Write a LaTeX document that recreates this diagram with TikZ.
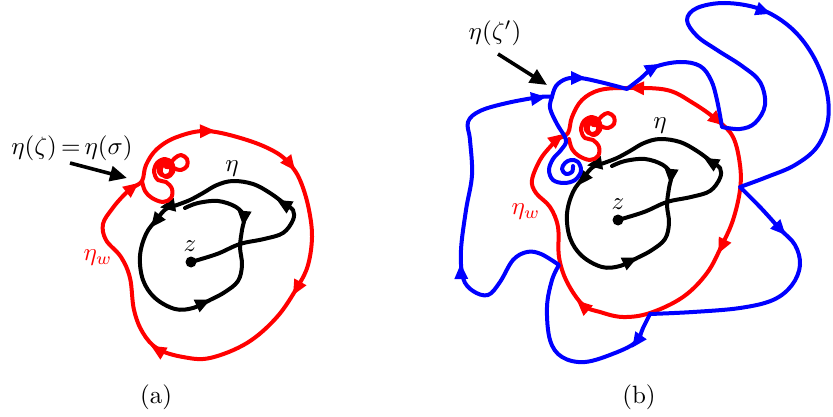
\documentclass[tikz,border=0pt]{standalone}
\usetikzlibrary{arrows.meta}
\begin{document}
\begin{tikzpicture}[x=1pt,y=-1pt,
  curve/.style={line width=4pt,line cap=round,line join=round},
  blk/.style={curve,black},
  redc/.style={curve,red},
  bluec/.style={curve,blue},
  lbl/.style={inner sep=0pt,scale=2.5},
  tri/.pic={\fill (8,0) -- (-7,7) -- (-7,-7) -- cycle;},
  pointer/.style={line width=3.6pt,-{Triangle[length=17pt,width=15pt]}},
  core/.pic={
    \draw[blk] plot[smooth,tension=0.6] coordinates {(191,262) (217,254) (240,244) (264,239) (283,233) (293,220) (293,210) (285,204) (270,193) (253,184) (233,181) (217,185) (203,193) (190,200) (177,205) (166,209) (157,219) (146,234) (140,256) (143,280) (155,298) (175,309) (193,308) (210,300) (225,292) (238,281) (242,265) (240,247) (242,230) (244,217) (236,207) (218,201) (198,203) (185,208)};
    \fill (191,262) circle[radius=5.5pt];
    \pic[rotate=150] at (284,204) {tri};
    \pic[rotate=190] at (168,206) {tri};
    \pic[rotate=232] at (156,221) {tri};
    \pic[rotate=25] at (203,303) {tri};
    \pic[rotate=265] at (244,218) {tri};
    \draw[redc] plot[smooth,tension=0.6] coordinates {(142,181) (145,191) (152,198) (163,202) (171,198) (172,189) (166,182) (158,180) (154,172) (157,163) (165,159) (172,163) (173,172) (167,177) (161,173) (162,166) (169,164) (175,158) (181,155) (187,159) (187,166) (181,170) (174,168) (170,162) (165,161) (160,165) (159,172) (164,176) (170,174) (171,168) (166,167)};
  }
]
\useasboundingbox (0,0) rectangle (833,417);
% ---------- panel (a)
\pic at (0,0) {core};
\draw[redc] plot[smooth cycle,tension=0.6] coordinates {(142,181) (146,165) (157,149) (177,137) (207,131) (247,140) (277,153) (293,168) (302,185) (309,210) (312,237) (308,265) (298,286) (277,317) (247,343) (210,358) (183,357) (158,349) (143,333) (134,310) (130,278) (121,257) (106,240) (103,224) (112,209) (123,196) (132,188)};
\pic[red,rotate=2] at (207,131) {tri};
\pic[red,rotate=-52] at (290,164) {tri};
\pic[red,rotate=241] at (297,288) {tri};
\pic[red,rotate=149] at (158,350) {tri};
\pic[red,rotate=38] at (132,188) {tri};
\node[lbl] (eqA) at (72,148) {$\eta(\zeta)\,{=}\,\eta(\sigma)$};
\coordinate (startA) at (70,163);
\coordinate (tipA) at (127,178);
\draw[pointer] (startA) -- (tipA);
\node[lbl] (etaA) at (232,169) {$\eta$};
\node[lbl] (zA) at (190,246) {$z$};
\node[lbl,red] (etawA) at (98,258) {$\eta_w$};
\node[lbl] (capA) at (156,397) {(a)};
% ---------- panel (b)
\pic at (427,-42) {core};
\draw[redc] plot[smooth cycle,tension=0.6] coordinates {(568,133) (572,117) (582,100) (600,90) (628,88) (667,90) (693,103) (717,120) (733,137) (740,165) (740,190) (733,220) (722,245) (707,273) (683,297) (650,313) (623,317) (600,312) (583,305) (567,282) (559,257) (558,227) (550,207) (536,193) (532,180) (540,160) (550,147) (558,139)};
\pic[red,rotate=178] at (637,88) {tri};
\pic[red,rotate=-40] at (717,120) {tri};
\pic[red,rotate=244] at (722,246) {tri};
\pic[red,rotate=138] at (583,306) {tri};
\pic[red,rotate=38] at (557,139) {tri};
% blue
\draw[bluec] plot[smooth,tension=0.6] coordinates {(552,97) (550,108) (557,124) (566,140) (561,150) (553,159) (549,170) (553,180) (564,183) (575,180) (581,171) (578,162) (571,160) (565,163) (562,169) (566,174) (572,172) (573,166)};
\draw[bluec] plot[smooth,tension=0.6] coordinates {(552,97) (556,86) (566,79) (580,78) (600,82) (627,89)}
  -- plot[smooth,tension=0.6] coordinates {(627,89) (640,79) (655,67) (680,62) (700,66) (711,80) (717,100) (722,127)}
  -- plot[smooth,tension=0.6] coordinates {(722,127) (740,129) (755,123) (765,105) (760,82) (742,66) (717,50) (697,36) (687,20) (697,8) (725,3) (760,9) (790,27) (812,54) (826,88) (828,120) (817,147) (795,165) (767,177) (740,187)}
  -- plot[smooth,tension=0.6] coordinates {(740,187) (760,207) (780,229) (795,245) (800,265) (792,285) (773,300) (740,308) (693,312) (650,314)}
  -- plot[smooth,tension=0.6] coordinates {(650,314) (643,328) (636,342) (615,353) (585,362) (562,357) (550,340) (547,307) (552,280) (559,265)}
  -- plot[smooth,tension=0.6] coordinates {(559,265) (541,254) (527,252) (513,260) (500,282) (488,295) (473,291) (463,278) (461,250) (466,210) (472,175) (470,140) (468,122) (480,111) (507,103) (540,97) (552,97)};
\pic[blue,rotate=0] at (578,78) {tri};
\pic[blue,rotate=30] at (653,68) {tri};
\pic[blue,rotate=-20] at (763,11) {tri};
\pic[blue,rotate=-47] at (780,229) {tri};
\pic[blue,rotate=235] at (637,341) {tri};
\pic[blue,rotate=92] at (461,272) {tri};
\pic[blue,rotate=8] at (538,98) {tri};
\node[lbl] (zetaB) at (495,33) {$\eta(\zeta')$};
\coordinate (startB) at (498,54);
\coordinate (tipB) at (547,85);
\draw[pointer] (startB) -- (tipB);
\node[lbl] (etaB) at (660,126) {$\eta$};
\node[lbl] (zB) at (618,204) {$z$};
\node[lbl,red] (etawB) at (526,212) {$\eta_w$};
\node[lbl] (capB) at (639,397) {(b)};
\end{tikzpicture}
\end{document}
